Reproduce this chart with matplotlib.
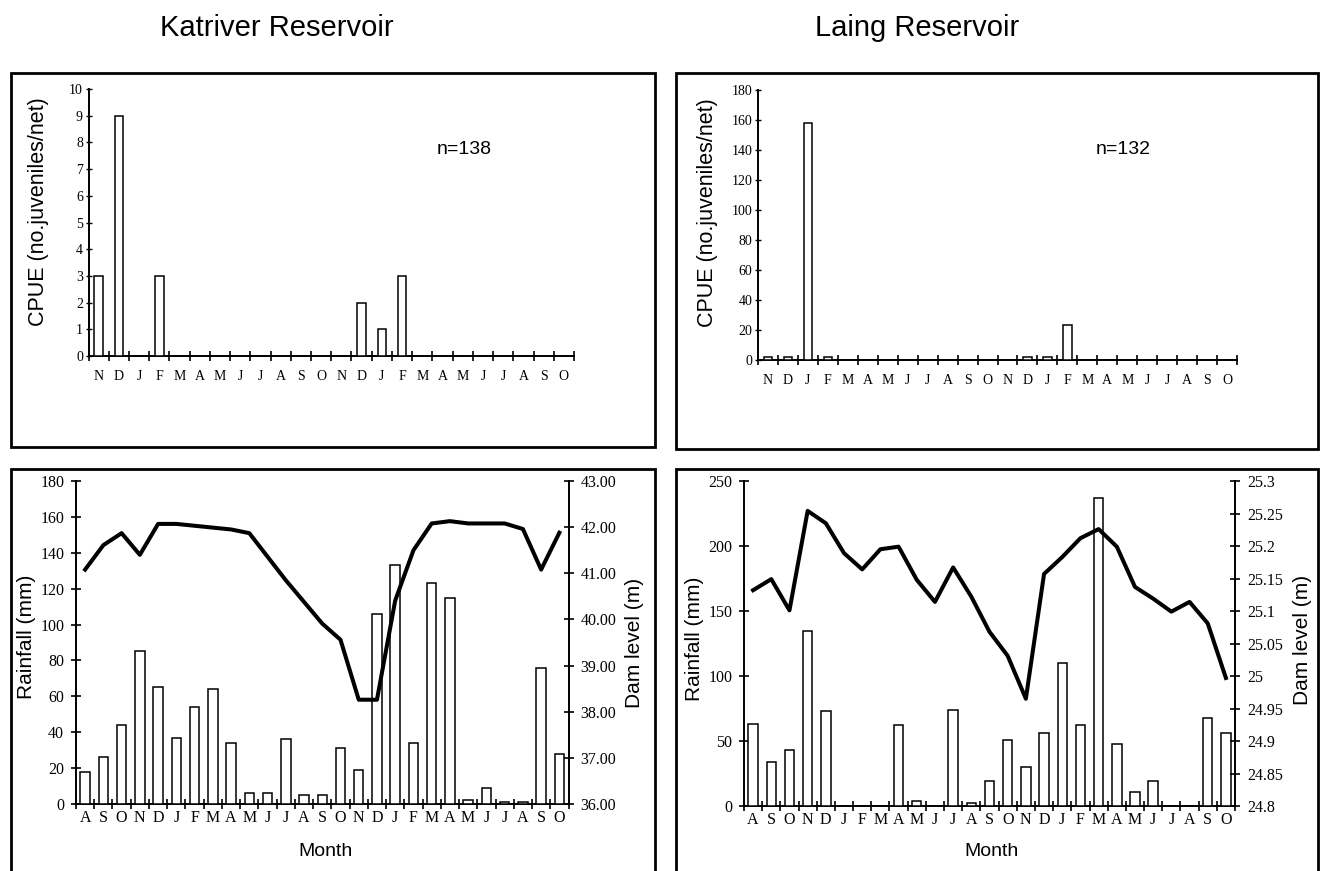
import matplotlib
matplotlib.use("Agg")
import matplotlib.pyplot as plt
from matplotlib.patches import Rectangle
from matplotlib.ticker import FixedLocator, FuncFormatter

plt.rcParams['font.family'] = ['Liberation Sans', 'DejaVu Sans']
SERIF = ['Liberation Serif', 'DejaVu Serif']

#Data
cpue_months = ["N", "D", "J", "F", "M", "A", "M", "J", "J", "A", "S", "O",
               "N", "D", "J", "F", "M", "A", "M", "J", "J", "A", "S", "O"]
cpue_katriver = [3, 9, 0, 3, 0, 0, 0, 0, 0, 0, 0, 0,
                 0, 2, 1, 3, 0, 0, 0, 0, 0, 0, 0, 0]
cpue_laing = [2, 2, 158, 2, 0, 0, 0, 0, 0, 0, 0, 0,
              0, 2, 2, 23, 0, 0, 0, 0, 0, 0, 0, 0]

env_months = ["A", "S", "O", "N", "D", "J", "F", "M", "A", "M", "J", "J", "A", "S",
              "O", "N", "D", "J", "F", "M", "A", "M", "J", "J", "A", "S", "O"]
rain_katriver = [18, 26, 44, 85, 65, 37, 54, 64, 34, 6, 6, 36, 5, 5,
                 31, 19, 106, 133, 34, 123, 115, 2, 9, 1, 1, 76, 28]
dam_katriver = [41.08, 41.61, 41.87, 41.40, 42.07, 42.07, 42.03, 41.99, 41.95, 41.87,
                41.36, 40.85, 40.38, 39.91, 39.56, 38.26, 38.26, 40.41, 41.50, 42.08,
                42.13, 42.08, 42.08, 42.08, 41.96, 41.08, 41.88]
rain_laing = [63, 34, 43, 135, 73, 0, 0, 0, 62, 4, 0, 74, 2, 19,
              51, 30, 56, 110, 62, 237, 48, 11, 19, 0, 0, 68, 56]
dam_laing = [25.132, 25.149, 25.101, 25.254, 25.235, 25.189, 25.164, 25.195, 25.199,
             25.148, 25.114, 25.167, 25.122, 25.068, 25.031, 24.965, 25.157, 25.183,
             25.212, 25.226, 25.199, 25.137, 25.119, 25.099, 25.114, 25.081, 24.997]

W, H = 1322, 871
fig = plt.figure(figsize=(W / 100, H / 100), dpi=100)


def px(x0, y0, x1, y1):
    # pixel box (top-left origin) -> figure fraction rect
    return [x0 / W, 1 - y1 / H, (x1 - x0) / W, (y1 - y0) / H]


def box(x0, y0, x1, y1):
    fig.patches.append(Rectangle((x0 / W, 1 - y1 / H), (x1 - x0) / W, (y1 - y0) / H,
                                 transform=fig.transFigure, fill=False,
                                 edgecolor='black', linewidth=2.0))


def ftext(x, y, s, **kw):
    fig.text(x / W, 1 - y / H, s, ha='center', va='center', **kw)


#Panel frames
box(11, 73, 655, 447)
box(676, 73, 1318, 449)
box(11, 469, 655, 900)
box(676, 469, 1318, 900)

ftext(277, 28, "Katriver Reservoir", fontsize=21)
ftext(917, 28, "Laing Reservoir", fontsize=21)


def month_axis(ax, labels, size, pad):
    n = len(labels)
    ax.set_xlim(-0.5, n - 0.5)
    ax.set_xticks(range(n))
    ax.set_xticklabels(labels, family=SERIF, fontsize=size)
    ax.xaxis.set_minor_locator(FixedLocator([i - 0.5 for i in range(n + 1)]))
    ax.tick_params(axis='x', which='major', length=0, pad=pad)
    ax.tick_params(axis='x', which='minor', direction='inout', length=7, width=1.2)


#Top: CPUE panels
def cpue_panel(rect, vals, ymax, step, ntext, ntext_pos):
    ax = fig.add_axes(rect)
    x = range(len(vals))
    ax.bar(x, vals, width=0.42, color='white', edgecolor='black', linewidth=1.1, zorder=3)
    ax.set_ylim(0, ymax)
    ax.set_yticks(range(0, ymax + 1, step))
    for lab in ax.get_yticklabels():
        lab.set_family(SERIF)
    ax.tick_params(axis='y', direction='inout', length=5, width=1.0, labelsize=10, pad=1.5)
    month_axis(ax, cpue_months, 10, 10)
    for s in ['top', 'right']:
        ax.spines[s].set_visible(False)
    for s in ['left', 'bottom']:
        ax.spines[s].set_linewidth(1.4)
    ftext(ntext_pos[0], ntext_pos[1], ntext, fontsize=14)
    return ax


cpue_panel(px(88.5, 89, 574, 356), cpue_katriver, 10, 1, "n=138", (464, 149))
cpue_panel(px(758, 90, 1237, 360), cpue_laing, 180, 20, "n=132", (1123, 149))
ftext(39, 212, "CPUE (no.juveniles/net)", fontsize=15.5, rotation=90)
ftext(708, 213, "CPUE (no.juveniles/net)", fontsize=15.5, rotation=90)


#Bottom: rainfall bars and dam level line
def env_panel(rect, rain, dam, rmax, rstep, dlim, dticks, dfmt):
    ax = fig.add_axes(rect)
    x = range(len(rain))
    ax.bar(x, rain, width=0.52, color='white', edgecolor='black', linewidth=1.1, zorder=3)
    ax.set_ylim(0, rmax)
    ax.set_yticks(range(0, rmax + 1, rstep))
    for lab in ax.get_yticklabels():
        lab.set_family(SERIF)
    ax.tick_params(axis='y', direction='inout', length=7, width=1.2, labelsize=11.5, pad=5)
    month_axis(ax, env_months, 11.5, 4)
    ax.spines['top'].set_visible(False)
    ax.spines['right'].set_visible(False)
    for s in ['left', 'bottom']:
        ax.spines[s].set_linewidth(1.4)

    ax2 = ax.twinx()
    ax2.plot(x, dam, color='black', linewidth=2.9, zorder=4)
    ax2.set_ylim(*dlim)
    ax2.set_yticks(dticks)
    ax2.yaxis.set_major_formatter(FuncFormatter(dfmt))
    for lab in ax2.get_yticklabels():
        lab.set_family(SERIF)
    ax2.tick_params(axis='y', direction='inout', length=7, width=1.2, labelsize=11.5, pad=5)
    for s in ['top', 'left', 'bottom']:
        ax2.spines[s].set_visible(False)
    ax2.spines['right'].set_linewidth(1.4)
    return ax, ax2


env_panel(px(76, 481, 568.5, 804), rain_katriver, dam_katriver, 180, 20,
          (36, 43), [36 + i for i in range(8)], lambda v, p: f"{v:.2f}")
env_panel(px(744, 481, 1235, 806), rain_laing, dam_laing, 250, 50,
          (24.8, 25.3), [round(24.8 + 0.05 * i, 2) for i in range(11)],
          lambda v, p: f"{round(v, 2):g}")

ftext(27, 637, "Rainfall (mm)", fontsize=15, rotation=90)
ftext(634, 643, "Dam level (m)", fontsize=15, rotation=90)
ftext(694, 639, "Rainfall (mm)", fontsize=15, rotation=90)
ftext(1302, 640, "Dam level (m)", fontsize=15, rotation=90)
ftext(326, 851, "Month", fontsize=14)
ftext(992, 851, "Month", fontsize=14)

fig.savefig("out.png", dpi=100)
